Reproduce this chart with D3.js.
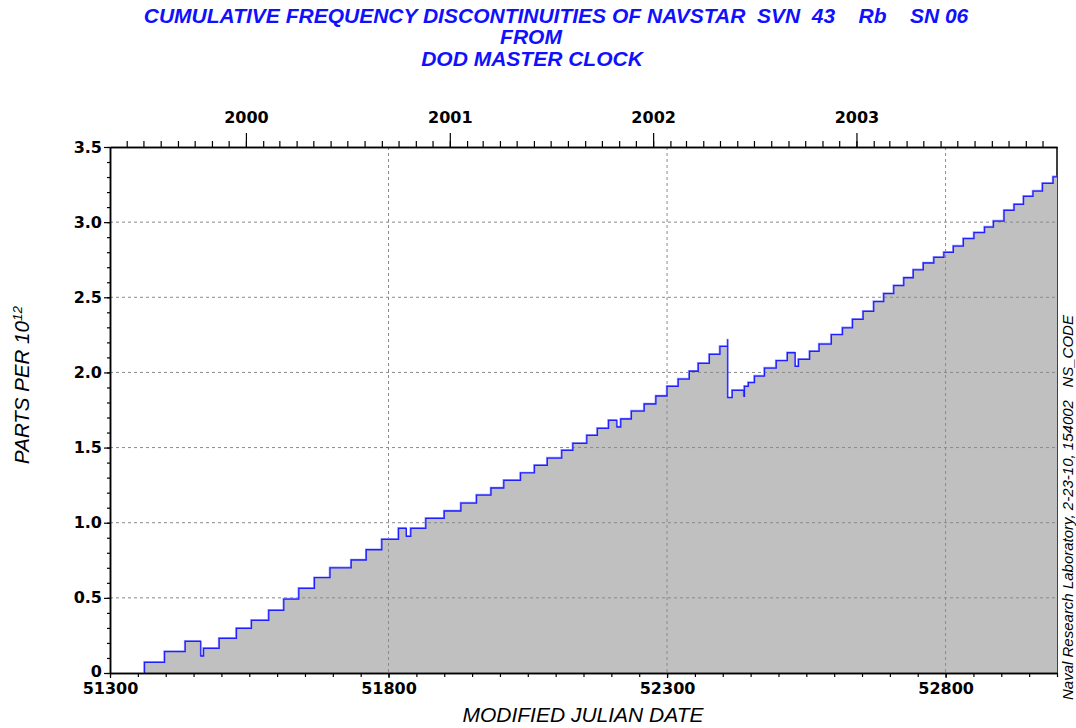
<!DOCTYPE html>
<html>
<head>
<meta charset="utf-8">
<script src="https://cdn.jsdelivr.net/npm/d3@7"></script>
<style>
  body { margin: 0; background: #fff; }
  svg { display: block; }
  .tick text { font-family: "DejaVu Sans", sans-serif; font-weight: bold; font-size: 16px; fill: #000; }
</style>
</head>
<body>
<div id="chart"></div>
<script>
// step dates (MJD) and cumulative value after each step, parts per 10^12
var stepMjd = [51362, 51398, 51435, 51463, 51468, 51496, 51527, 51554, 51585, 51612,
    51639, 51667, 51695, 51733, 51760, 51788, 51818, 51832, 51840, 51867,
    51900, 51930, 51958, 51984, 52007, 52037, 52062, 52085, 52111, 52131,
    52156, 52175, 52195, 52210, 52217, 52236, 52259, 52280, 52300, 52320,
    52340, 52356, 52376, 52395, 52409, 52409, 52417, 52438, 52439, 52446,
    52457, 52475, 52496, 52516, 52530, 52536, 52556, 52573, 52595, 52615,
    52633, 52652, 52671, 52689, 52707, 52725, 52742, 52760, 52779, 52797,
    52814, 52832, 52851, 52870, 52886, 52905, 52923, 52940, 52957, 52974,
    52993];
var stepValue = [0.071, 0.142, 0.211, 0.113, 0.164, 0.231, 0.297, 0.350, 0.417, 0.492,
    0.563, 0.634, 0.700, 0.752, 0.820, 0.889, 0.963, 0.909, 0.963, 1.029,
    1.078, 1.131, 1.184, 1.231, 1.282, 1.331, 1.382, 1.430, 1.482, 1.528,
    1.581, 1.628, 1.681, 1.637, 1.690, 1.743, 1.790, 1.843, 1.907, 1.956,
    2.008, 2.060, 2.120, 2.173, 2.220, 1.832, 1.881, 1.841, 1.907, 1.932,
    1.976, 2.029, 2.078, 2.131, 2.040, 2.087, 2.140, 2.189, 2.251, 2.297,
    2.353, 2.406, 2.471, 2.525, 2.578, 2.630, 2.683, 2.728, 2.766, 2.799,
    2.841, 2.890, 2.930, 2.967, 3.007, 3.078, 3.118, 3.172, 3.207, 3.258,
    3.301];

var xDomain = [51300, 53000];
var yDomain = [0, 3.5];
var xMajorTicks = [51300, 51800, 52300, 52800];
var xGridTicks = [51800, 52300, 52800];
var yMajorTicks = [0, 0.5, 1.0, 1.5, 2.0, 2.5, 3.0, 3.5];
var yGridTicks = [0.5, 1.0, 1.5, 2.0, 2.5, 3.0];

var titleLines = ["CUMULATIVE FREQUENCY DISCONTINUITIES OF NAVSTAR  SVN  43    Rb    SN 06",
    "FROM", "DOD MASTER CLOCK"];
var xLabel = "MODIFIED JULIAN DATE";
var sideNote = "Naval Research Laboratory, 2-23-10, 154002   NS_CODE";

var width = 1076, height = 728;
var margin = {top: 147, right: 19, bottom: 55, left: 110};
var plotW = width - margin.left - margin.right,
    plotH = height - margin.top - margin.bottom;

var svg = d3.select('#chart').append('svg')
    .attr('width', width)
    .attr('height', height);

var x = d3.scaleLinear().domain(xDomain).range([margin.left, margin.left + plotW]);
var y = d3.scaleLinear().domain(yDomain).range([margin.top + plotH, margin.top]);

// MJD 0 = 1858-11-17
var mjdEpoch = Date.UTC(1858, 10, 17);
function mjdToDate(m) { return new Date(mjdEpoch + m * 86400000); }
var xTime = d3.scaleUtc().domain(xDomain.map(mjdToDate)).range(x.range());

// points of the cumulative curve
var pts = [[stepMjd[0], 0]];
stepMjd.forEach(function(m, i) { pts.push([m, stepValue[i]]); });
pts.push([xDomain[1], stepValue[stepValue.length - 1]]);

// right frame line sits under the fill
svg.append('line')
    .attr('x1', x(xDomain[1])).attr('x2', x(xDomain[1]))
    .attr('y1', y(yDomain[1])).attr('y2', y(0))
    .style('stroke', '#000').style('stroke-width', 1.5);

var area = d3.area()
    .curve(d3.curveStepAfter)
    .x(function(d) { return x(d[0]); })
    .y0(y(0))
    .y1(function(d) { return y(d[1]); });

svg.append('path')
    .attr('d', area(pts))
    .style('fill', '#c0c0c0');

// dashed grid
var grid = svg.append('g').attr('class', 'grid')
    .style('stroke', '#8a8a8a').style('stroke-width', 1).style('stroke-dasharray', '3,3');
grid.selectAll('.hg').data(yGridTicks).enter().append('line')
    .attr('x1', x(xDomain[0])).attr('x2', x(xDomain[1]))
    .attr('y1', function(d) { return y(d); }).attr('y2', function(d) { return y(d); });
grid.selectAll('.vg').data(xGridTicks).enter().append('line')
    .attr('x1', function(d) { return x(d); }).attr('x2', function(d) { return x(d); })
    .attr('y1', y(yDomain[1])).attr('y2', y(0));

var line = d3.line()
    .curve(d3.curveStepAfter)
    .x(function(d) { return x(d[0]); })
    .y(function(d) { return y(d[1]); });

svg.append('path')
    .attr('d', line(pts))
    .attr('transform', 'translate(-0.6,-0.6)')
    .style('fill', 'none')
    .style('stroke', '#9a9aff')
    .style('stroke-width', 1.4);

svg.append('path')
    .attr('d', line(pts))
    .style('fill', 'none')
    .style('stroke', '#1f1fff')
    .style('stroke-width', 1.3);

// axes
function styleAxis(g) {
    g.select('.domain').style('stroke', '#000').style('stroke-width', 1.5);
    g.selectAll('.tick line').style('stroke', '#000').style('stroke-width', 1.2);
}

var yMinor = d3.range(0, 3.501, 0.1).map(function(v) { return +v.toFixed(1); });
svg.append('g')
    .attr('transform', 'translate(' + margin.left + ',0)')
    .call(d3.axisLeft(y).tickValues(yMinor).tickSize(3).tickFormat('').tickSizeOuter(0))
    .call(styleAxis);
svg.append('g')
    .attr('transform', 'translate(' + margin.left + ',0)')
    .call(d3.axisLeft(y).tickValues(yMajorTicks).tickSize(6).tickPadding(2).tickSizeOuter(0)
        .tickFormat(function(d) { return d === 0 ? '0' : d3.format('.1f')(d); }))
    .call(styleAxis)
    .call(function(g) {
        // lift the "0" a little so it clears the 51300 label
        g.selectAll('.tick text').filter(function(d) { return d === 0; }).attr('dy', '0.2em');
    });

var xMinor = d3.range(xDomain[0], xDomain[1] + 1, 50);
svg.append('g')
    .attr('transform', 'translate(0,' + (margin.top + plotH) + ')')
    .call(d3.axisBottom(x).tickValues(xMinor).tickSize(4).tickFormat('').tickSizeOuter(0))
    .call(styleAxis);
svg.append('g')
    .attr('transform', 'translate(0,' + (margin.top + plotH) + ')')
    .call(d3.axisBottom(x).tickValues(xMajorTicks).tickSize(5).tickPadding(5).tickSizeOuter(0)
        .tickFormat(d3.format('d')))
    .call(styleAxis);

svg.append('g')
    .attr('transform', 'translate(0,' + margin.top + ')')
    .call(d3.axisTop(xTime).ticks(d3.utcMonth.every(1)).tickSize(6).tickFormat('').tickSizeOuter(0))
    .call(styleAxis);
svg.append('g')
    .attr('transform', 'translate(0,' + margin.top + ')')
    .call(d3.axisTop(xTime).ticks(d3.utcYear.every(1)).tickSize(14).tickPadding(10).tickSizeOuter(0)
        .tickFormat(d3.utcFormat('%Y')))
    .call(styleAxis);

// titles and labels
var titleX = [556, 531, 532], titleY = [23, 44, 66];
svg.selectAll('.title').data(titleLines).enter().append('text')
    .attr('class', 'title')
    .attr('x', function(d, i) { return titleX[i]; })
    .attr('y', function(d, i) { return titleY[i]; })
    .attr('text-anchor', 'middle')
    .style('white-space', 'pre')
    .style('font-family', '"Liberation Sans", Arial, sans-serif')
    .style('font-weight', 'bold').style('font-style', 'italic')
    .style('font-size', '21px')
    .style('fill', '#1010ff')
    .text(function(d) { return d; });

svg.append('text')
    .attr('x', 583).attr('y', 722)
    .attr('text-anchor', 'middle')
    .style('font-family', '"Liberation Sans", Arial, sans-serif')
    .style('font-style', 'italic').style('font-size', '21px')
    .style('fill', '#000')
    .text(xLabel);

var yl = svg.append('text')
    .attr('transform', 'translate(29,385) rotate(-90)')
    .attr('text-anchor', 'middle')
    .style('font-family', '"Liberation Sans", Arial, sans-serif')
    .style('font-style', 'italic').style('font-size', '20.5px')
    .style('fill', '#000');
yl.append('tspan').text('PARTS PER 10');
yl.append('tspan').attr('dy', '-0.55em').style('font-size', '13.5px').text('12');

svg.append('text')
    .attr('transform', 'translate(1073,700) rotate(-90)')
    .attr('text-anchor', 'start')
    .style('white-space', 'pre')
    .style('font-family', '"Liberation Sans", Arial, sans-serif')
    .style('font-style', 'italic').style('font-size', '15px')
    .style('fill', '#000')
    .text(sideNote);
</script>
</body>
</html>
